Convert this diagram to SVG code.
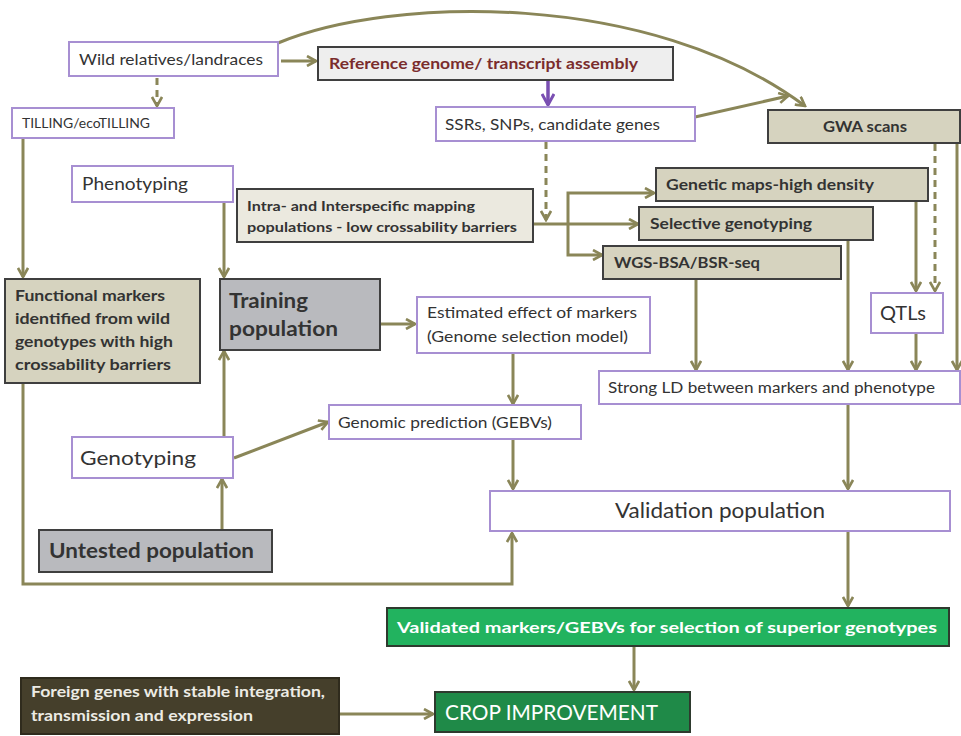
<svg xmlns="http://www.w3.org/2000/svg" width="961" height="736" viewBox="0 0 961 736">
  <defs>
    <style>
      .bg { fill: #ffffff; }
      .nw { fill: #ffffff; stroke: #a78fd2; stroke-width: 2; }
      .nb { fill: #d6d3bf; stroke: #3f3f3f; stroke-width: 2; }
      .nl { fill: #ebe9df; stroke: #3f3f3f; stroke-width: 2; }
      .ng { fill: #b9babe; stroke: #3f3f3f; stroke-width: 2; }
      .nr { fill: #eeeeee; stroke: #3f3f3f; stroke-width: 2; }
      .nv { fill: #22b35f; stroke: #2e3a2e; stroke-width: 2; }
      .nc { fill: #1f8a48; stroke: #2e3a2e; stroke-width: 2; }
      .nf { fill: #453f2b; stroke: #2f2b1d; stroke-width: 2; }
      text { font-family: Lato, "Open Sans", "Liberation Sans", sans-serif; fill: #333333; }
      .b { font-weight: bold; }
      .w { fill: #ffffff; }
      .c { stroke: #8a8658; stroke-width: 3; fill: none; }
      .d { stroke-dasharray: 7 5; }
      .p { stroke: #7a4fb2; stroke-width: 3.5; fill: none; }
    </style>
    <marker id="arr" viewBox="0 0 12 12" refX="10" refY="6" markerWidth="12" markerHeight="12" markerUnits="userSpaceOnUse" orient="auto">
      <path d="M1,1 L10,6 L1,11" fill="none" stroke="#8a8658" stroke-width="2.6"/>
    </marker>
    <marker id="arrP" viewBox="0 0 14 14" refX="12" refY="7" markerWidth="14" markerHeight="14" markerUnits="userSpaceOnUse" orient="auto">
      <path d="M1,1 L12,7 L1,13" fill="none" stroke="#7a4fb2" stroke-width="3"/>
    </marker>
  </defs>

  <rect class="bg" x="0" y="0" width="961" height="736"/>

  <!-- connectors -->
  <g id="connectors">
    <path class="c" d="M278,43 C390,-4 650,-10 805,106" marker-end="url(#arr)"/>
    <path class="c" d="M281,61 L316,61" marker-end="url(#arr)"/>
    <path class="c d" d="M157,78 L157,106" marker-end="url(#arr)"/>
    <path class="p" d="M548,81 L548,105" marker-end="url(#arrP)"/>
    <path class="c" d="M695,117 L788,96" marker-end="url(#arr)"/>
    <path class="c d" d="M546,142 L546,220" marker-end="url(#arr)"/>
    <path class="c" d="M534,224 L638,224" marker-end="url(#arr)"/>
    <path class="c" d="M653,193 L568,193 L568,255 L602,255" marker-end="url(#arr)"/>
    <path class="c" d="M653,193 L654,193" marker-end="url(#arr)"/>
    <path class="c" d="M916,202 L916,291" marker-end="url(#arr)"/>
    <path class="c d" d="M935,144 L935,291" marker-end="url(#arr)"/>
    <path class="c" d="M957,144 L957,370" marker-end="url(#arr)"/>
    <path class="c" d="M848,241 L848,370" marker-end="url(#arr)"/>
    <path class="c" d="M696,280 L696,370" marker-end="url(#arr)"/>
    <path class="c" d="M916,334 L916,370" marker-end="url(#arr)"/>
    <path class="c" d="M23,139 L23,277" marker-end="url(#arr)"/>
    <path class="c" d="M224,203 L224,277" marker-end="url(#arr)"/>
    <path class="c" d="M381,324 L415,324" marker-end="url(#arr)"/>
    <path class="c" d="M513,354 L513,404" marker-end="url(#arr)"/>
    <path class="c" d="M234,458 L328,422" marker-end="url(#arr)"/>
    <path class="c" d="M224,437 L224,351" marker-end="url(#arr)"/>
    <path class="c" d="M222,530 L222,479" marker-end="url(#arr)"/>
    <path class="c" d="M23,384 L23,584 L512,584 L512,533" marker-end="url(#arr)"/>
    <path class="c" d="M513,440 L513,489" marker-end="url(#arr)"/>
    <path class="c" d="M848,405 L848,489" marker-end="url(#arr)"/>
    <path class="c" d="M848,532 L848,606" marker-end="url(#arr)"/>
    <path class="c" d="M634,647 L634,690" marker-end="url(#arr)"/>
    <path class="c" d="M340,714 L433,714" marker-end="url(#arr)"/>
  </g>

  <!-- nodes -->
  <g id="wild">
    <rect class="nw" x="69" y="42" width="209" height="34"/>
    <text x="79" y="65" font-size="16" textLength="184" lengthAdjust="spacingAndGlyphs">Wild relatives/landraces</text>
  </g>
  <g id="reference">
    <rect class="nr" x="318" y="47" width="355" height="33"/>
    <text x="329" y="69" font-size="15.5" class="b" style="fill:#7a2c2c" textLength="309" lengthAdjust="spacingAndGlyphs">Reference genome/ transcript assembly</text>
  </g>
  <g id="tilling">
    <rect class="nw" x="12" y="108" width="162" height="30"/>
    <text x="22" y="128" font-size="12.5" textLength="128" lengthAdjust="spacingAndGlyphs">TILLING/ecoTILLING</text>
  </g>
  <g id="ssrs">
    <rect class="nw" x="436" y="107" width="259" height="34"/>
    <text x="445" y="130" font-size="16" textLength="215" lengthAdjust="spacingAndGlyphs">SSRs, SNPs, candidate genes</text>
  </g>
  <g id="gwa">
    <rect class="nb" x="768" y="110" width="192" height="33"/>
    <text x="823" y="132" font-size="15.5" class="b" textLength="84" lengthAdjust="spacingAndGlyphs">GWA scans</text>
  </g>
  <g id="phenotyping">
    <rect class="nw" x="72" y="166" width="161" height="36"/>
    <text x="82" y="190" font-size="17.5" textLength="106" lengthAdjust="spacingAndGlyphs">Phenotyping</text>
  </g>
  <g id="mapping-populations">
    <rect class="nl" x="237" y="189" width="296" height="53"/>
    <text x="247" y="211" font-size="13" class="b" textLength="228" lengthAdjust="spacingAndGlyphs">Intra- and Interspecific mapping</text>
    <text x="247" y="232" font-size="13" class="b" textLength="270" lengthAdjust="spacingAndGlyphs">populations  - low crossability barriers</text>
  </g>
  <g id="genetic-maps">
    <rect class="nb" x="656" y="168" width="272" height="33"/>
    <text x="666" y="190" font-size="15.5" class="b" textLength="208" lengthAdjust="spacingAndGlyphs">Genetic maps-high density</text>
  </g>
  <g id="selective-genotyping">
    <rect class="nb" x="639" y="207" width="234" height="33"/>
    <text x="650" y="229" font-size="15.5" class="b" textLength="162" lengthAdjust="spacingAndGlyphs">Selective genotyping</text>
  </g>
  <g id="wgs-bsa">
    <rect class="nb" x="603" y="246" width="238" height="33"/>
    <text x="614" y="268" font-size="15.5" class="b" textLength="146" lengthAdjust="spacingAndGlyphs">WGS-BSA/BSR-seq</text>
  </g>
  <g id="functional-markers">
    <rect class="nb" x="5" y="279" width="195" height="104"/>
    <text x="15" y="301" font-size="16" class="b" textLength="150" lengthAdjust="spacingAndGlyphs">Functional markers</text>
    <text x="15" y="324" font-size="16" class="b" textLength="155" lengthAdjust="spacingAndGlyphs">identified from wild</text>
    <text x="15" y="347" font-size="16" class="b" textLength="158" lengthAdjust="spacingAndGlyphs">genotypes with high</text>
    <text x="15" y="370" font-size="16" class="b" textLength="156" lengthAdjust="spacingAndGlyphs">crossability barriers</text>
  </g>
  <g id="training-population">
    <rect class="ng" x="220" y="279" width="160" height="71"/>
    <text x="229" y="308" font-size="21.5" class="b" textLength="79" lengthAdjust="spacingAndGlyphs">Training</text>
    <text x="229" y="336" font-size="21.5" class="b" textLength="109" lengthAdjust="spacingAndGlyphs">population</text>
  </g>
  <g id="estimated-effect">
    <rect class="nw" x="417" y="297" width="233" height="56"/>
    <text x="427" y="318" font-size="16" textLength="210" lengthAdjust="spacingAndGlyphs">Estimated effect of markers</text>
    <text x="427" y="342" font-size="16" textLength="201" lengthAdjust="spacingAndGlyphs">(Genome selection model)</text>
  </g>
  <g id="qtls">
    <rect class="nw" x="871" y="293" width="72" height="40"/>
    <text x="880" y="320" font-size="19" textLength="46" lengthAdjust="spacingAndGlyphs">QTLs</text>
  </g>
  <g id="strong-ld">
    <rect class="nw" x="599" y="371" width="361" height="33"/>
    <text x="608" y="393" font-size="16" textLength="327" lengthAdjust="spacingAndGlyphs">Strong LD between markers and phenotype</text>
  </g>
  <g id="genomic-prediction">
    <rect class="nw" x="329" y="405" width="252" height="34"/>
    <text x="338" y="428" font-size="16" textLength="214" lengthAdjust="spacingAndGlyphs">Genomic prediction (GEBVs)</text>
  </g>
  <g id="genotyping">
    <rect class="nw" x="72" y="437" width="161" height="41"/>
    <text x="80" y="465" font-size="19.5" textLength="116" lengthAdjust="spacingAndGlyphs">Genotyping</text>
  </g>
  <g id="validation-population">
    <rect class="nw" x="490" y="491" width="460" height="40"/>
    <text x="615" y="518" font-size="20.5" textLength="210" lengthAdjust="spacingAndGlyphs">Validation population</text>
  </g>
  <g id="untested-population">
    <rect class="ng" x="39" y="530" width="233" height="42"/>
    <text x="49" y="558" font-size="21.5" class="b" textLength="205" lengthAdjust="spacingAndGlyphs">Untested population</text>
  </g>
  <g id="validated-markers">
    <rect class="nv" x="387" y="608" width="562" height="38"/>
    <text x="397" y="633" font-size="15.5" class="b w" textLength="540" lengthAdjust="spacingAndGlyphs">Validated markers/GEBVs  for selection of superior genotypes</text>
  </g>
  <g id="foreign-genes">
    <rect class="nf" x="21" y="678" width="318" height="56"/>
    <text x="31" y="697" font-size="14.5" class="b" style="fill:#ecebe4" textLength="294" lengthAdjust="spacingAndGlyphs">Foreign genes with stable integration,</text>
    <text x="31" y="721" font-size="14.5" class="b" style="fill:#ecebe4" textLength="222" lengthAdjust="spacingAndGlyphs">transmission and expression</text>
  </g>
  <g id="crop-improvement">
    <rect class="nc" x="435" y="692" width="255" height="40"/>
    <text x="445" y="720" font-size="20.5" class="w" textLength="213" lengthAdjust="spacingAndGlyphs">CROP IMPROVEMENT</text>
  </g>
</svg>
